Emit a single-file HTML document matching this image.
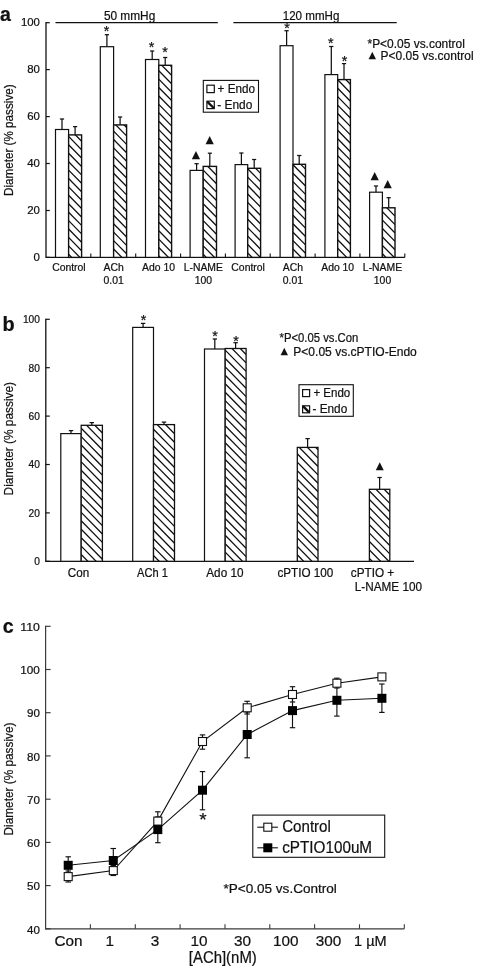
<!DOCTYPE html>
<html lang="en"><head><meta charset="utf-8"><title>Figure</title>
<style>html,body{margin:0;padding:0;background:#fff}body{width:478px;height:966px;overflow:hidden}svg{display:block}</style>
</head><body>
<svg width="478" height="966" viewBox="0 0 478 966" font-family='"Liberation Sans", sans-serif' fill="#111" stroke="#111" stroke-linecap="butt">
<rect x="0" y="0" width="478" height="966" fill="#fff" stroke="none"/>
<style>text{stroke:#111;stroke-width:0.22px;stroke-linejoin:round}</style>
<text x="0.0" y="20.8" font-size="19.5" font-weight="bold">a</text>
<line x1="46.0" y1="22.1" x2="46.0" y2="258.0" stroke-width="1.3"/>
<line x1="46.0" y1="257.4" x2="404.8" y2="257.4" stroke-width="1.3"/>
<line x1="46.0" y1="257.4" x2="49.8" y2="257.4" stroke-width="1.2"/>
<text x="39.9" y="261.1" font-size="11.8" text-anchor="end" textLength="6.4" lengthAdjust="spacingAndGlyphs">0</text>
<line x1="46.0" y1="210.5" x2="49.8" y2="210.5" stroke-width="1.2"/>
<text x="39.9" y="214.2" font-size="11.8" text-anchor="end" textLength="12.7" lengthAdjust="spacingAndGlyphs">20</text>
<line x1="46.0" y1="163.5" x2="49.8" y2="163.5" stroke-width="1.2"/>
<text x="39.9" y="167.2" font-size="11.8" text-anchor="end" textLength="12.7" lengthAdjust="spacingAndGlyphs">40</text>
<line x1="46.0" y1="116.6" x2="49.8" y2="116.6" stroke-width="1.2"/>
<text x="39.9" y="120.3" font-size="11.8" text-anchor="end" textLength="12.7" lengthAdjust="spacingAndGlyphs">60</text>
<line x1="46.0" y1="69.6" x2="49.8" y2="69.6" stroke-width="1.2"/>
<text x="39.9" y="73.3" font-size="11.8" text-anchor="end" textLength="12.7" lengthAdjust="spacingAndGlyphs">80</text>
<line x1="46.0" y1="22.7" x2="49.8" y2="22.7" stroke-width="1.2"/>
<text x="39.9" y="26.4" font-size="11.8" text-anchor="end" textLength="19.0" lengthAdjust="spacingAndGlyphs">100</text>
<line x1="90.8" y1="257.4" x2="90.8" y2="253.4" stroke-width="1.1"/>
<line x1="135.7" y1="257.4" x2="135.7" y2="253.4" stroke-width="1.1"/>
<line x1="180.6" y1="257.4" x2="180.6" y2="253.4" stroke-width="1.1"/>
<line x1="225.4" y1="257.4" x2="225.4" y2="253.4" stroke-width="1.1"/>
<line x1="270.2" y1="257.4" x2="270.2" y2="253.4" stroke-width="1.1"/>
<line x1="315.1" y1="257.4" x2="315.1" y2="253.4" stroke-width="1.1"/>
<line x1="359.9" y1="257.4" x2="359.9" y2="253.4" stroke-width="1.1"/>
<line x1="404.8" y1="257.4" x2="404.8" y2="253.4" stroke-width="1.1"/>
<text transform="translate(12.9,140.2) rotate(-90)" font-size="12.6" text-anchor="middle" textLength="111.6" lengthAdjust="spacingAndGlyphs">Diameter (% passive)</text>
<line x1="55.5" y1="22.7" x2="217.8" y2="22.7" stroke-width="1.2"/>
<line x1="233.4" y1="22.7" x2="396.7" y2="22.7" stroke-width="1.2"/>
<text x="103.9" y="19.6" font-size="12.3" textLength="51.4" lengthAdjust="spacingAndGlyphs">50 mmHg</text>
<text x="282.7" y="19.6" font-size="12.3" textLength="56.7" lengthAdjust="spacingAndGlyphs">120 mmHg</text>
<line x1="62.0" y1="119.0" x2="62.0" y2="129.5" stroke-width="1.25"/>
<line x1="59.9" y1="119.0" x2="64.1" y2="119.0" stroke-width="1.25"/>
<line x1="75.1" y1="126.6" x2="75.1" y2="134.9" stroke-width="1.25"/>
<line x1="73.0" y1="126.6" x2="77.2" y2="126.6" stroke-width="1.25"/>
<rect x="55.5" y="129.5" width="13.1" height="127.9" fill="#fff" stroke-width="1.2"/>
<clipPath id="c1"><rect x="68.6" y="134.9" width="13.0" height="122.5"/></clipPath>
<rect x="68.6" y="134.9" width="13.0" height="122.5" fill="#fff" stroke="none"/>
<path d="M68.6 119.6L81.6 132.8M68.6 128.0L81.6 141.2M68.6 136.4L81.6 149.7M68.6 144.8L81.6 158.1M68.6 153.2L81.6 166.5M68.6 161.7L81.6 174.9M68.6 170.1L81.6 183.3M68.6 178.5L81.6 191.8M68.6 186.9L81.6 200.2M68.6 195.3L81.6 208.6M68.6 203.8L81.6 217.0M68.6 212.2L81.6 225.4M68.6 220.6L81.6 233.9M68.6 229.0L81.6 242.3M68.6 237.4L81.6 250.7M68.6 245.9L81.6 259.1M68.6 254.3L81.6 267.5" stroke-width="1.3" clip-path="url(#c1)" fill="none"/>
<rect x="68.6" y="134.9" width="13.0" height="122.5" fill="none" stroke-width="1.4"/>
<line x1="106.9" y1="34.7" x2="106.9" y2="46.7" stroke-width="1.25"/>
<line x1="104.8" y1="34.7" x2="109.0" y2="34.7" stroke-width="1.25"/>
<line x1="120.1" y1="117.0" x2="120.1" y2="124.9" stroke-width="1.25"/>
<line x1="118.0" y1="117.0" x2="122.2" y2="117.0" stroke-width="1.25"/>
<rect x="100.3" y="46.7" width="13.3" height="210.7" fill="#fff" stroke-width="1.2"/>
<clipPath id="c2"><rect x="113.6" y="124.9" width="13.0" height="132.5"/></clipPath>
<rect x="113.6" y="124.9" width="13.0" height="132.5" fill="#fff" stroke="none"/>
<path d="M113.6 105.8L126.6 119.1M113.6 114.3L126.6 127.5M113.6 122.7L126.6 135.9M113.6 131.1L126.6 144.4M113.6 139.5L126.6 152.8M113.6 147.9L126.6 161.2M113.6 156.4L126.6 169.6M113.6 164.8L126.6 178.0M113.6 173.2L126.6 186.5M113.6 181.6L126.6 194.9M113.6 190.0L126.6 203.3M113.6 198.5L126.6 211.7M113.6 206.9L126.6 220.1M113.6 215.3L126.6 228.6M113.6 223.7L126.6 237.0M113.6 232.1L126.6 245.4M113.6 240.6L126.6 253.8M113.6 249.0L126.6 262.2M113.6 257.4L126.6 270.7" stroke-width="1.3" clip-path="url(#c2)" fill="none"/>
<rect x="113.6" y="124.9" width="13.0" height="132.5" fill="none" stroke-width="1.4"/>
<line x1="152.2" y1="51.0" x2="152.2" y2="59.5" stroke-width="1.25"/>
<line x1="150.1" y1="51.0" x2="154.2" y2="51.0" stroke-width="1.25"/>
<line x1="165.2" y1="57.5" x2="165.2" y2="65.3" stroke-width="1.25"/>
<line x1="163.1" y1="57.5" x2="167.3" y2="57.5" stroke-width="1.25"/>
<rect x="145.5" y="59.5" width="13.3" height="197.9" fill="#fff" stroke-width="1.2"/>
<clipPath id="c3"><rect x="158.8" y="65.3" width="12.8" height="192.1"/></clipPath>
<rect x="158.8" y="65.3" width="12.8" height="192.1" fill="#fff" stroke="none"/>
<path d="M158.8 45.4L171.6 58.5M158.8 53.9L171.6 66.9M158.8 62.3L171.6 75.3M158.8 70.7L171.6 83.8M158.8 79.1L171.6 92.2M158.8 87.5L171.6 100.6M158.8 96.0L171.6 109.0M158.8 104.4L171.6 117.4M158.8 112.8L171.6 125.9M158.8 121.2L171.6 134.3M158.8 129.6L171.6 142.7M158.8 138.1L171.6 151.1M158.8 146.5L171.6 159.5M158.8 154.9L171.6 168.0M158.8 163.3L171.6 176.4M158.8 171.7L171.6 184.8M158.8 180.2L171.6 193.2M158.8 188.6L171.6 201.6M158.8 197.0L171.6 210.1M158.8 205.4L171.6 218.5M158.8 213.8L171.6 226.9M158.8 222.3L171.6 235.3M158.8 230.7L171.6 243.7M158.8 239.1L171.6 252.2M158.8 247.5L171.6 260.6M158.8 255.9L171.6 269.0" stroke-width="1.3" clip-path="url(#c3)" fill="none"/>
<rect x="158.8" y="65.3" width="12.8" height="192.1" fill="none" stroke-width="1.4"/>
<line x1="196.6" y1="163.7" x2="196.6" y2="170.4" stroke-width="1.25"/>
<line x1="194.5" y1="163.7" x2="198.7" y2="163.7" stroke-width="1.25"/>
<line x1="209.8" y1="153.2" x2="209.8" y2="166.4" stroke-width="1.25"/>
<line x1="207.8" y1="153.2" x2="211.9" y2="153.2" stroke-width="1.25"/>
<rect x="190.1" y="170.4" width="13.1" height="87.0" fill="#fff" stroke-width="1.2"/>
<clipPath id="c4"><rect x="203.2" y="166.4" width="13.3" height="91.0"/></clipPath>
<rect x="203.2" y="166.4" width="13.3" height="91.0" fill="#fff" stroke="none"/>
<path d="M203.2 144.8L216.5 158.4M203.2 153.3L216.5 166.8M203.2 161.7L216.5 175.2M203.2 170.1L216.5 183.7M203.2 178.5L216.5 192.1M203.2 186.9L216.5 200.5M203.2 195.4L216.5 208.9M203.2 203.8L216.5 217.3M203.2 212.2L216.5 225.8M203.2 220.6L216.5 234.2M203.2 229.0L216.5 242.6M203.2 237.5L216.5 251.0M203.2 245.9L216.5 259.4M203.2 254.3L216.5 267.9" stroke-width="1.3" clip-path="url(#c4)" fill="none"/>
<rect x="203.2" y="166.4" width="13.3" height="91.0" fill="none" stroke-width="1.4"/>
<line x1="241.4" y1="153.0" x2="241.4" y2="164.6" stroke-width="1.25"/>
<line x1="239.3" y1="153.0" x2="243.5" y2="153.0" stroke-width="1.25"/>
<line x1="254.2" y1="159.5" x2="254.2" y2="168.3" stroke-width="1.25"/>
<line x1="252.1" y1="159.5" x2="256.2" y2="159.5" stroke-width="1.25"/>
<rect x="235.1" y="164.6" width="12.6" height="92.8" fill="#fff" stroke-width="1.2"/>
<clipPath id="c5"><rect x="247.7" y="168.3" width="12.9" height="89.1"/></clipPath>
<rect x="247.7" y="168.3" width="12.9" height="89.1" fill="#fff" stroke="none"/>
<path d="M247.7 151.9L260.6 165.0M247.7 160.3L260.6 173.4M247.7 168.7L260.6 181.9M247.7 177.1L260.6 190.3M247.7 185.5L260.6 198.7M247.7 194.0L260.6 207.1M247.7 202.4L260.6 215.5M247.7 210.8L260.6 224.0M247.7 219.2L260.6 232.4M247.7 227.6L260.6 240.8M247.7 236.1L260.6 249.2M247.7 244.5L260.6 257.6M247.7 252.9L260.6 266.1" stroke-width="1.3" clip-path="url(#c5)" fill="none"/>
<rect x="247.7" y="168.3" width="12.9" height="89.1" fill="none" stroke-width="1.4"/>
<line x1="286.6" y1="30.7" x2="286.6" y2="45.7" stroke-width="1.25"/>
<line x1="284.4" y1="30.7" x2="288.7" y2="30.7" stroke-width="1.25"/>
<line x1="299.2" y1="155.5" x2="299.2" y2="164.3" stroke-width="1.25"/>
<line x1="297.1" y1="155.5" x2="301.4" y2="155.5" stroke-width="1.25"/>
<rect x="280.1" y="45.7" width="12.9" height="211.7" fill="#fff" stroke-width="1.2"/>
<clipPath id="c6"><rect x="293.0" y="164.3" width="12.5" height="93.1"/></clipPath>
<rect x="293.0" y="164.3" width="12.5" height="93.1" fill="#fff" stroke="none"/>
<path d="M293.0 148.0L305.5 160.7M293.0 156.4L305.5 169.1M293.0 164.8L305.5 177.5M293.0 173.2L305.5 186.0M293.0 181.6L305.5 194.4M293.0 190.1L305.5 202.8M293.0 198.5L305.5 211.2M293.0 206.9L305.5 219.6M293.0 215.3L305.5 228.1M293.0 223.7L305.5 236.5M293.0 232.2L305.5 244.9M293.0 240.6L305.5 253.3M293.0 249.0L305.5 261.7" stroke-width="1.3" clip-path="url(#c6)" fill="none"/>
<rect x="293.0" y="164.3" width="12.5" height="93.1" fill="none" stroke-width="1.4"/>
<line x1="331.3" y1="46.5" x2="331.3" y2="74.6" stroke-width="1.25"/>
<line x1="329.2" y1="46.5" x2="333.4" y2="46.5" stroke-width="1.25"/>
<line x1="344.0" y1="63.6" x2="344.0" y2="79.6" stroke-width="1.25"/>
<line x1="341.9" y1="63.6" x2="346.1" y2="63.6" stroke-width="1.25"/>
<rect x="324.9" y="74.6" width="12.8" height="182.8" fill="#fff" stroke-width="1.2"/>
<clipPath id="c7"><rect x="337.7" y="79.6" width="12.7" height="177.8"/></clipPath>
<rect x="337.7" y="79.6" width="12.7" height="177.8" fill="#fff" stroke="none"/>
<path d="M337.7 63.0L350.4 75.9M337.7 71.4L350.4 84.3M337.7 79.8L350.4 92.8M337.7 88.2L350.4 101.2M337.7 96.6L350.4 109.6M337.7 105.1L350.4 118.0M337.7 113.5L350.4 126.4M337.7 121.9L350.4 134.9M337.7 130.3L350.4 143.3M337.7 138.7L350.4 151.7M337.7 147.2L350.4 160.1M337.7 155.6L350.4 168.5M337.7 164.0L350.4 177.0M337.7 172.4L350.4 185.4M337.7 180.8L350.4 193.8M337.7 189.3L350.4 202.2M337.7 197.7L350.4 210.6M337.7 206.1L350.4 219.1M337.7 214.5L350.4 227.5M337.7 222.9L350.4 235.9M337.7 231.4L350.4 244.3M337.7 239.8L350.4 252.7M337.7 248.2L350.4 261.2M337.7 256.6L350.4 269.6" stroke-width="1.3" clip-path="url(#c7)" fill="none"/>
<rect x="337.7" y="79.6" width="12.7" height="177.8" fill="none" stroke-width="1.4"/>
<line x1="376.0" y1="186.0" x2="376.0" y2="192.2" stroke-width="1.25"/>
<line x1="373.9" y1="186.0" x2="378.1" y2="186.0" stroke-width="1.25"/>
<line x1="388.7" y1="197.7" x2="388.7" y2="207.8" stroke-width="1.25"/>
<line x1="386.6" y1="197.7" x2="390.8" y2="197.7" stroke-width="1.25"/>
<rect x="369.6" y="192.2" width="12.8" height="65.2" fill="#fff" stroke-width="1.2"/>
<clipPath id="c8"><rect x="382.4" y="207.8" width="12.6" height="49.6"/></clipPath>
<rect x="382.4" y="207.8" width="12.6" height="49.6" fill="#fff" stroke="none"/>
<path d="M382.4 194.9L395.0 207.7M382.4 203.3L395.0 216.1M382.4 211.7L395.0 224.6M382.4 220.1L395.0 233.0M382.4 228.5L395.0 241.4M382.4 237.0L395.0 249.8M382.4 245.4L395.0 258.2M382.4 253.8L395.0 266.7" stroke-width="1.3" clip-path="url(#c8)" fill="none"/>
<rect x="382.4" y="207.8" width="12.6" height="49.6" fill="none" stroke-width="1.4"/>
<text x="106.6" y="36.4" font-size="14.3" text-anchor="middle">*</text>
<text x="151.6" y="51.7" font-size="14.3" text-anchor="middle">*</text>
<text x="165.0" y="56.7" font-size="14.3" text-anchor="middle">*</text>
<text x="287.0" y="33.0" font-size="14.3" text-anchor="middle">*</text>
<text x="330.8" y="47.7" font-size="14.3" text-anchor="middle">*</text>
<text x="344.5" y="66.1" font-size="14.3" text-anchor="middle">*</text>
<text x="191.72" y="157.96" font-size="10.88" font-family='"DejaVu Sans", "Liberation Sans", sans-serif' style="stroke:none">▲</text>
<text x="205.52" y="143.26" font-size="10.88" font-family='"DejaVu Sans", "Liberation Sans", sans-serif' style="stroke:none">▲</text>
<text x="370.42" y="178.56" font-size="10.88" font-family='"DejaVu Sans", "Liberation Sans", sans-serif' style="stroke:none">▲</text>
<text x="383.52" y="187.26" font-size="10.88" font-family='"DejaVu Sans", "Liberation Sans", sans-serif' style="stroke:none">▲</text>
<text x="68.9" y="270.5" font-size="10.4" text-anchor="middle">Control</text>
<text x="113.7" y="270.5" font-size="10.4" text-anchor="middle">ACh</text>
<text x="113.7" y="283.5" font-size="10.4" text-anchor="middle">0.01</text>
<text x="158.5" y="270.5" font-size="10.4" text-anchor="middle">Ado 10</text>
<text x="203.3" y="270.5" font-size="10.4" text-anchor="middle">L-NAME</text>
<text x="203.3" y="283.5" font-size="10.4" text-anchor="middle">100</text>
<text x="248.1" y="270.5" font-size="10.4" text-anchor="middle">Control</text>
<text x="292.9" y="270.5" font-size="10.4" text-anchor="middle">ACh</text>
<text x="292.9" y="283.5" font-size="10.4" text-anchor="middle">0.01</text>
<text x="337.7" y="270.5" font-size="10.4" text-anchor="middle">Ado 10</text>
<text x="382.5" y="270.5" font-size="10.4" text-anchor="middle">L-NAME</text>
<text x="382.5" y="283.5" font-size="10.4" text-anchor="middle">100</text>
<rect x="203.3" y="80.4" width="55.2" height="31.8" fill="#fff" stroke-width="1.1"/>
<rect x="206.9" y="85.2" width="7.4" height="7.4" fill="#fff" stroke-width="1.2"/>
<rect x="206.9" y="101.2" width="7.4" height="7.4" fill="#fff" stroke-width="1.2"/>
<polygon points="206.9,101.2 208.6,101.2 214.3,106.9 214.3,108.6 212.6,108.6 206.9,102.9" stroke="none"/>
<text x="217.6" y="92.7" font-size="12.1" textLength="37.3" lengthAdjust="spacingAndGlyphs">+ Endo</text>
<text x="217.3" y="108.8" font-size="12.1" textLength="35.0" lengthAdjust="spacingAndGlyphs">- Endo</text>
<text x="367.5" y="48.0" font-size="12" textLength="97.3" lengthAdjust="spacingAndGlyphs">*P&lt;0.05 vs.control</text>
<text x="368.62" y="58.29" font-size="9.83" font-family='"DejaVu Sans", "Liberation Sans", sans-serif' style="stroke:none">▲</text>
<text x="380.6" y="60.1" font-size="12" textLength="93.0" lengthAdjust="spacingAndGlyphs">P&lt;0.05 vs.control</text>
<text x="2.6" y="330.8" font-size="19.9" font-weight="bold">b</text>
<line x1="45.8" y1="318.7" x2="45.8" y2="561.9" stroke-width="1.3"/>
<line x1="45.8" y1="561.3" x2="414.0" y2="561.3" stroke-width="1.3"/>
<line x1="45.8" y1="561.3" x2="49.8" y2="561.3" stroke-width="1.2"/>
<text x="39.9" y="565.2" font-size="10.2" text-anchor="end">0</text>
<line x1="45.8" y1="512.9" x2="49.8" y2="512.9" stroke-width="1.2"/>
<text x="39.9" y="516.8" font-size="10.2" text-anchor="end">20</text>
<line x1="45.8" y1="464.5" x2="49.8" y2="464.5" stroke-width="1.2"/>
<text x="39.9" y="468.4" font-size="10.2" text-anchor="end">40</text>
<line x1="45.8" y1="416.1" x2="49.8" y2="416.1" stroke-width="1.2"/>
<text x="39.9" y="420.0" font-size="10.2" text-anchor="end">60</text>
<line x1="45.8" y1="367.7" x2="49.8" y2="367.7" stroke-width="1.2"/>
<text x="39.9" y="371.6" font-size="10.2" text-anchor="end">80</text>
<line x1="45.8" y1="319.3" x2="49.8" y2="319.3" stroke-width="1.2"/>
<text x="39.9" y="323.2" font-size="10.2" text-anchor="end">100</text>
<text transform="translate(12.7,438.7) rotate(-90)" font-size="12.7" text-anchor="middle" textLength="113.4" lengthAdjust="spacingAndGlyphs">Diameter (% passive)</text>
<line x1="71.0" y1="430.6" x2="71.0" y2="433.6" stroke-width="1.25"/>
<line x1="68.8" y1="430.6" x2="73.2" y2="430.6" stroke-width="1.25"/>
<line x1="91.8" y1="422.6" x2="91.8" y2="425.3" stroke-width="1.25"/>
<line x1="89.6" y1="422.6" x2="94.0" y2="422.6" stroke-width="1.25"/>
<rect x="60.8" y="433.6" width="20.4" height="127.7" fill="#fff" stroke-width="1.2"/>
<clipPath id="c9"><rect x="81.2" y="425.3" width="21.2" height="136.0"/></clipPath>
<rect x="81.2" y="425.3" width="21.2" height="136.0" fill="#fff" stroke="none"/>
<path d="M81.2 402.9L102.4 424.6M81.2 411.4L102.4 433.0M81.2 419.8L102.4 441.4M81.2 428.2L102.4 449.8M81.2 436.6L102.4 458.2M81.2 445.0L102.4 466.7M81.2 453.5L102.4 475.1M81.2 461.9L102.4 483.5M81.2 470.3L102.4 491.9M81.2 478.7L102.4 500.3M81.2 487.1L102.4 508.8M81.2 495.6L102.4 517.2M81.2 504.0L102.4 525.6M81.2 512.4L102.4 534.0M81.2 520.8L102.4 542.4M81.2 529.2L102.4 550.9M81.2 537.7L102.4 559.3M81.2 546.1L102.4 567.7M81.2 554.5L102.4 576.1" stroke-width="1.3" clip-path="url(#c9)" fill="none"/>
<rect x="81.2" y="425.3" width="21.2" height="136.0" fill="none" stroke-width="1.3"/>
<line x1="143.1" y1="323.4" x2="143.1" y2="327.4" stroke-width="1.25"/>
<line x1="140.9" y1="323.4" x2="145.3" y2="323.4" stroke-width="1.25"/>
<line x1="164.0" y1="422.1" x2="164.0" y2="424.6" stroke-width="1.25"/>
<line x1="161.8" y1="422.1" x2="166.2" y2="422.1" stroke-width="1.25"/>
<rect x="132.7" y="327.4" width="20.8" height="233.9" fill="#fff" stroke-width="1.2"/>
<clipPath id="c10"><rect x="153.5" y="424.6" width="21.0" height="136.7"/></clipPath>
<rect x="153.5" y="424.6" width="21.0" height="136.7" fill="#fff" stroke="none"/>
<path d="M153.5 395.5L174.5 416.9M153.5 403.9L174.5 425.4M153.5 412.4L174.5 433.8M153.5 420.8L174.5 442.2M153.5 429.2L174.5 450.6M153.5 437.6L174.5 459.0M153.5 446.0L174.5 467.5M153.5 454.5L174.5 475.9M153.5 462.9L174.5 484.3M153.5 471.3L174.5 492.7M153.5 479.7L174.5 501.1M153.5 488.1L174.5 509.6M153.5 496.6L174.5 518.0M153.5 505.0L174.5 526.4M153.5 513.4L174.5 534.8M153.5 521.8L174.5 543.2M153.5 530.2L174.5 551.7M153.5 538.7L174.5 560.1M153.5 547.1L174.5 568.5M153.5 555.5L174.5 576.9" stroke-width="1.3" clip-path="url(#c10)" fill="none"/>
<rect x="153.5" y="424.6" width="21.0" height="136.7" fill="none" stroke-width="1.3"/>
<line x1="214.8" y1="339.0" x2="214.8" y2="349.0" stroke-width="1.25"/>
<line x1="212.7" y1="339.0" x2="217.0" y2="339.0" stroke-width="1.25"/>
<line x1="235.6" y1="342.7" x2="235.6" y2="348.5" stroke-width="1.25"/>
<line x1="233.4" y1="342.7" x2="237.8" y2="342.7" stroke-width="1.25"/>
<rect x="204.5" y="349.0" width="20.7" height="212.3" fill="#fff" stroke-width="1.2"/>
<clipPath id="c11"><rect x="225.2" y="348.5" width="20.9" height="212.8"/></clipPath>
<rect x="225.2" y="348.5" width="20.9" height="212.8" fill="#fff" stroke="none"/>
<path d="M225.2 324.8L246.1 346.1M225.2 333.2L246.1 354.5M225.2 341.6L246.1 362.9M225.2 350.1L246.1 371.4M225.2 358.5L246.1 379.8M225.2 366.9L246.1 388.2M225.2 375.3L246.1 396.6M225.2 383.7L246.1 405.0M225.2 392.2L246.1 413.5M225.2 400.6L246.1 421.9M225.2 409.0L246.1 430.3M225.2 417.4L246.1 438.7M225.2 425.8L246.1 447.1M225.2 434.3L246.1 455.6M225.2 442.7L246.1 464.0M225.2 451.1L246.1 472.4M225.2 459.5L246.1 480.8M225.2 467.9L246.1 489.2M225.2 476.4L246.1 497.7M225.2 484.8L246.1 506.1M225.2 493.2L246.1 514.5M225.2 501.6L246.1 522.9M225.2 510.0L246.1 531.3M225.2 518.5L246.1 539.8M225.2 526.9L246.1 548.2M225.2 535.3L246.1 556.6M225.2 543.7L246.1 565.0M225.2 552.1L246.1 573.4M225.2 560.6L246.1 581.9" stroke-width="1.3" clip-path="url(#c11)" fill="none"/>
<rect x="225.2" y="348.5" width="20.9" height="212.8" fill="none" stroke-width="1.3"/>
<line x1="307.6" y1="438.6" x2="307.6" y2="447.4" stroke-width="1.25"/>
<line x1="305.4" y1="438.6" x2="309.8" y2="438.6" stroke-width="1.25"/>
<clipPath id="c12"><rect x="297.3" y="447.4" width="20.7" height="113.9"/></clipPath>
<rect x="297.3" y="447.4" width="20.7" height="113.9" fill="#fff" stroke="none"/>
<path d="M297.3 420.1L318.0 441.2M297.3 428.5L318.0 449.7M297.3 437.0L318.0 458.1M297.3 445.4L318.0 466.5M297.3 453.8L318.0 474.9M297.3 462.2L318.0 483.3M297.3 470.6L318.0 491.8M297.3 479.1L318.0 500.2M297.3 487.5L318.0 508.6M297.3 495.9L318.0 517.0M297.3 504.3L318.0 525.4M297.3 512.7L318.0 533.9M297.3 521.2L318.0 542.3M297.3 529.6L318.0 550.7M297.3 538.0L318.0 559.1M297.3 546.4L318.0 567.5M297.3 554.8L318.0 576.0" stroke-width="1.3" clip-path="url(#c12)" fill="none"/>
<rect x="297.3" y="447.4" width="20.7" height="113.9" fill="none" stroke-width="1.3"/>
<line x1="379.6" y1="477.5" x2="379.6" y2="489.3" stroke-width="1.25"/>
<line x1="377.4" y1="477.5" x2="381.8" y2="477.5" stroke-width="1.25"/>
<clipPath id="c13"><rect x="369.4" y="489.3" width="20.4" height="72.0"/></clipPath>
<rect x="369.4" y="489.3" width="20.4" height="72.0" fill="#fff" stroke="none"/>
<path d="M369.4 465.7L389.8 486.5M369.4 474.2L389.8 495.0M369.4 482.6L389.8 503.4M369.4 491.0L389.8 511.8M369.4 499.4L389.8 520.2M369.4 507.8L389.8 528.6M369.4 516.3L389.8 537.1M369.4 524.7L389.8 545.5M369.4 533.1L389.8 553.9M369.4 541.5L389.8 562.3M369.4 549.9L389.8 570.7M369.4 558.4L389.8 579.2" stroke-width="1.3" clip-path="url(#c13)" fill="none"/>
<rect x="369.4" y="489.3" width="20.4" height="72.0" fill="none" stroke-width="1.3"/>
<text x="143.5" y="324.9" font-size="14.3" text-anchor="middle">*</text>
<text x="215.0" y="340.9" font-size="14.3" text-anchor="middle">*</text>
<text x="236.0" y="346.0" font-size="14.3" text-anchor="middle">*</text>
<text x="375.87" y="469.41" font-size="10.48" font-family='"DejaVu Sans", "Liberation Sans", sans-serif' style="stroke:none">▲</text>
<text x="67.8" y="577.0" font-size="12" textLength="21.4" lengthAdjust="spacingAndGlyphs">Con</text>
<text x="137.0" y="577.0" font-size="12" textLength="30.8" lengthAdjust="spacingAndGlyphs">ACh 1</text>
<text x="206.3" y="577.0" font-size="12" textLength="37.2" lengthAdjust="spacingAndGlyphs">Ado 10</text>
<text x="277.4" y="577.0" font-size="12" textLength="55.8" lengthAdjust="spacingAndGlyphs">cPTIO 100</text>
<text x="350.8" y="577.0" font-size="12" textLength="43.4" lengthAdjust="spacingAndGlyphs">cPTIO +</text>
<text x="354.8" y="590.7" font-size="12" textLength="67.2" lengthAdjust="spacingAndGlyphs">L-NAME 100</text>
<rect x="299.0" y="384.7" width="54.3" height="31.6" fill="#fff" stroke-width="1.1"/>
<rect x="302.6" y="389.6" width="7.0" height="7.0" fill="#fff" stroke-width="1.2"/>
<rect x="302.6" y="405.8" width="7.0" height="7.0" fill="#fff" stroke-width="1.2"/>
<polygon points="302.6,405.8 304.3,405.8 309.6,411.1 309.6,412.8 307.9,412.8 302.6,407.5" stroke="none"/>
<text x="313.4" y="396.7" font-size="12.1" textLength="36.9" lengthAdjust="spacingAndGlyphs">+ Endo</text>
<text x="312.5" y="413.0" font-size="12.1" textLength="34.7" lengthAdjust="spacingAndGlyphs">- Endo</text>
<text x="279.6" y="342.0" font-size="12" textLength="78.7" lengthAdjust="spacingAndGlyphs">*P&lt;0.05 vs.Con</text>
<text x="280.52" y="353.79" font-size="9.83" font-family='"DejaVu Sans", "Liberation Sans", sans-serif' style="stroke:none">▲</text>
<text x="293.3" y="355.5" font-size="12" textLength="123.5" lengthAdjust="spacingAndGlyphs">P&lt;0.05 vs.cPTIO-Endo</text>
<text x="2.8" y="633.2" font-size="19.7" font-weight="bold">c</text>
<line x1="45.6" y1="625.7" x2="45.6" y2="929.4" stroke-width="1.2" stroke="#3a3a3a"/>
<line x1="45.6" y1="928.8" x2="404.3" y2="928.8" stroke-width="1.2" stroke="#3a3a3a"/>
<line x1="45.6" y1="928.8" x2="50.6" y2="928.8" stroke-width="1.15" stroke="#3a3a3a"/>
<text x="39.9" y="933.5" font-size="11.6" text-anchor="end" textLength="12.9" lengthAdjust="spacingAndGlyphs">40</text>
<line x1="45.6" y1="885.6" x2="50.6" y2="885.6" stroke-width="1.15" stroke="#3a3a3a"/>
<text x="39.9" y="890.3" font-size="11.6" text-anchor="end" textLength="12.9" lengthAdjust="spacingAndGlyphs">50</text>
<line x1="45.6" y1="842.4" x2="50.6" y2="842.4" stroke-width="1.15" stroke="#3a3a3a"/>
<text x="39.9" y="847.1" font-size="11.6" text-anchor="end" textLength="12.9" lengthAdjust="spacingAndGlyphs">60</text>
<line x1="45.6" y1="799.2" x2="50.6" y2="799.2" stroke-width="1.15" stroke="#3a3a3a"/>
<text x="39.9" y="803.9" font-size="11.6" text-anchor="end" textLength="12.9" lengthAdjust="spacingAndGlyphs">70</text>
<line x1="45.6" y1="755.9" x2="50.6" y2="755.9" stroke-width="1.15" stroke="#3a3a3a"/>
<text x="39.9" y="760.6" font-size="11.6" text-anchor="end" textLength="12.9" lengthAdjust="spacingAndGlyphs">80</text>
<line x1="45.6" y1="712.7" x2="50.6" y2="712.7" stroke-width="1.15" stroke="#3a3a3a"/>
<text x="39.9" y="717.4" font-size="11.6" text-anchor="end" textLength="12.9" lengthAdjust="spacingAndGlyphs">90</text>
<line x1="45.6" y1="669.5" x2="50.6" y2="669.5" stroke-width="1.15" stroke="#3a3a3a"/>
<text x="39.9" y="674.2" font-size="11.6" text-anchor="end" textLength="19.6" lengthAdjust="spacingAndGlyphs">100</text>
<line x1="45.6" y1="626.3" x2="50.6" y2="626.3" stroke-width="1.15" stroke="#3a3a3a"/>
<text x="39.9" y="631.0" font-size="11.6" text-anchor="end" textLength="19.6" lengthAdjust="spacingAndGlyphs">110</text>
<line x1="90.4" y1="928.8" x2="90.4" y2="924.3" stroke-width="1.1" stroke="#3a3a3a"/>
<line x1="135.3" y1="928.8" x2="135.3" y2="924.3" stroke-width="1.1" stroke="#3a3a3a"/>
<line x1="180.1" y1="928.8" x2="180.1" y2="924.3" stroke-width="1.1" stroke="#3a3a3a"/>
<line x1="225.0" y1="928.8" x2="225.0" y2="924.3" stroke-width="1.1" stroke="#3a3a3a"/>
<line x1="269.8" y1="928.8" x2="269.8" y2="924.3" stroke-width="1.1" stroke="#3a3a3a"/>
<line x1="314.6" y1="928.8" x2="314.6" y2="924.3" stroke-width="1.1" stroke="#3a3a3a"/>
<line x1="359.5" y1="928.8" x2="359.5" y2="924.3" stroke-width="1.1" stroke="#3a3a3a"/>
<line x1="404.3" y1="928.8" x2="404.3" y2="924.3" stroke-width="1.1" stroke="#3a3a3a"/>
<text transform="translate(13.3,779.0) rotate(-90)" font-size="12.7" text-anchor="middle" textLength="112.9" lengthAdjust="spacingAndGlyphs">Diameter (% passive)</text>
<polyline fill="none" stroke-width="1.1" points="68.2,876.6 113.3,870.6 157.8,821.1 202.5,741.5 247.2,707.8 292.5,694.5 336.9,683.2 381.9,676.9"/>
<polyline fill="none" stroke-width="1.1" points="68.2,865.3 113.3,860.5 157.8,829.6 202.5,790.2 247.2,734.5 292.5,710.6 336.9,700.3 381.9,698.3"/>
<line x1="68.2" y1="871.0" x2="68.2" y2="882.0" stroke-width="1.15"/>
<line x1="65.5" y1="871.0" x2="71.0" y2="871.0" stroke-width="1.15"/>
<line x1="65.5" y1="882.0" x2="71.0" y2="882.0" stroke-width="1.15"/>
<line x1="113.3" y1="865.5" x2="113.3" y2="875.5" stroke-width="1.15"/>
<line x1="110.5" y1="865.5" x2="116.0" y2="865.5" stroke-width="1.15"/>
<line x1="110.5" y1="875.5" x2="116.0" y2="875.5" stroke-width="1.15"/>
<line x1="157.8" y1="811.8" x2="157.8" y2="830.0" stroke-width="1.15"/>
<line x1="155.1" y1="811.8" x2="160.6" y2="811.8" stroke-width="1.15"/>
<line x1="155.1" y1="830.0" x2="160.6" y2="830.0" stroke-width="1.15"/>
<line x1="202.5" y1="734.9" x2="202.5" y2="749.2" stroke-width="1.15"/>
<line x1="199.8" y1="734.9" x2="205.2" y2="734.9" stroke-width="1.15"/>
<line x1="199.8" y1="749.2" x2="205.2" y2="749.2" stroke-width="1.15"/>
<line x1="247.2" y1="701.3" x2="247.2" y2="714.0" stroke-width="1.15"/>
<line x1="244.4" y1="701.3" x2="249.9" y2="701.3" stroke-width="1.15"/>
<line x1="244.4" y1="714.0" x2="249.9" y2="714.0" stroke-width="1.15"/>
<line x1="292.5" y1="686.7" x2="292.5" y2="702.0" stroke-width="1.15"/>
<line x1="289.8" y1="686.7" x2="295.2" y2="686.7" stroke-width="1.15"/>
<line x1="289.8" y1="702.0" x2="295.2" y2="702.0" stroke-width="1.15"/>
<line x1="336.9" y1="678.2" x2="336.9" y2="688.0" stroke-width="1.15"/>
<line x1="334.1" y1="678.2" x2="339.6" y2="678.2" stroke-width="1.15"/>
<line x1="334.1" y1="688.0" x2="339.6" y2="688.0" stroke-width="1.15"/>
<line x1="381.9" y1="674.0" x2="381.9" y2="680.0" stroke-width="1.15"/>
<line x1="379.1" y1="674.0" x2="384.6" y2="674.0" stroke-width="1.15"/>
<line x1="379.1" y1="680.0" x2="384.6" y2="680.0" stroke-width="1.15"/>
<line x1="68.2" y1="856.8" x2="68.2" y2="873.5" stroke-width="1.15"/>
<line x1="65.5" y1="856.8" x2="71.0" y2="856.8" stroke-width="1.15"/>
<line x1="65.5" y1="873.5" x2="71.0" y2="873.5" stroke-width="1.15"/>
<line x1="113.3" y1="848.5" x2="113.3" y2="872.0" stroke-width="1.15"/>
<line x1="110.5" y1="848.5" x2="116.0" y2="848.5" stroke-width="1.15"/>
<line x1="110.5" y1="872.0" x2="116.0" y2="872.0" stroke-width="1.15"/>
<line x1="157.8" y1="817.0" x2="157.8" y2="842.7" stroke-width="1.15"/>
<line x1="155.1" y1="817.0" x2="160.6" y2="817.0" stroke-width="1.15"/>
<line x1="155.1" y1="842.7" x2="160.6" y2="842.7" stroke-width="1.15"/>
<line x1="202.5" y1="771.6" x2="202.5" y2="809.8" stroke-width="1.15"/>
<line x1="199.8" y1="771.6" x2="205.2" y2="771.6" stroke-width="1.15"/>
<line x1="199.8" y1="809.8" x2="205.2" y2="809.8" stroke-width="1.15"/>
<line x1="247.2" y1="712.0" x2="247.2" y2="757.8" stroke-width="1.15"/>
<line x1="244.4" y1="712.0" x2="249.9" y2="712.0" stroke-width="1.15"/>
<line x1="244.4" y1="757.8" x2="249.9" y2="757.8" stroke-width="1.15"/>
<line x1="292.5" y1="693.5" x2="292.5" y2="727.7" stroke-width="1.15"/>
<line x1="289.8" y1="693.5" x2="295.2" y2="693.5" stroke-width="1.15"/>
<line x1="289.8" y1="727.7" x2="295.2" y2="727.7" stroke-width="1.15"/>
<line x1="336.9" y1="684.5" x2="336.9" y2="716.1" stroke-width="1.15"/>
<line x1="334.1" y1="684.5" x2="339.6" y2="684.5" stroke-width="1.15"/>
<line x1="334.1" y1="716.1" x2="339.6" y2="716.1" stroke-width="1.15"/>
<line x1="381.9" y1="684.0" x2="381.9" y2="712.4" stroke-width="1.15"/>
<line x1="379.1" y1="684.0" x2="384.6" y2="684.0" stroke-width="1.15"/>
<line x1="379.1" y1="712.4" x2="384.6" y2="712.4" stroke-width="1.15"/>
<rect x="64.2" y="872.6" width="8.0" height="8.0" fill="#fff" stroke-width="1.1"/>
<rect x="109.3" y="866.6" width="8.0" height="8.0" fill="#fff" stroke-width="1.1"/>
<rect x="153.8" y="817.1" width="8.0" height="8.0" fill="#fff" stroke-width="1.1"/>
<rect x="198.5" y="737.5" width="8.0" height="8.0" fill="#fff" stroke-width="1.1"/>
<rect x="243.2" y="703.8" width="8.0" height="8.0" fill="#fff" stroke-width="1.1"/>
<rect x="288.5" y="690.5" width="8.0" height="8.0" fill="#fff" stroke-width="1.1"/>
<rect x="332.9" y="679.2" width="8.0" height="8.0" fill="#fff" stroke-width="1.1"/>
<rect x="377.9" y="672.9" width="8.0" height="8.0" fill="#fff" stroke-width="1.1"/>
<rect x="63.7" y="860.8" width="9.0" height="9.0" fill="#000" stroke="none"/>
<rect x="108.8" y="856.0" width="9.0" height="9.0" fill="#000" stroke="none"/>
<rect x="153.3" y="825.1" width="9.0" height="9.0" fill="#000" stroke="none"/>
<rect x="198.0" y="785.7" width="9.0" height="9.0" fill="#000" stroke="none"/>
<rect x="242.7" y="730.0" width="9.0" height="9.0" fill="#000" stroke="none"/>
<rect x="288.0" y="706.1" width="9.0" height="9.0" fill="#000" stroke="none"/>
<rect x="332.4" y="695.8" width="9.0" height="9.0" fill="#000" stroke="none"/>
<rect x="377.4" y="693.8" width="9.0" height="9.0" fill="#000" stroke="none"/>
<text x="203.0" y="826.3" font-size="19" text-anchor="middle">*</text>
<rect x="252.8" y="815.1" width="131.9" height="42.2" fill="#fff" stroke-width="1.1"/>
<line x1="257.3" y1="827.2" x2="277.9" y2="827.2" stroke-width="1.1"/>
<rect x="263.8" y="823.2" width="8" height="8" fill="#fff" stroke-width="1.1"/>
<line x1="257.3" y1="847.8" x2="277.9" y2="847.8" stroke-width="1.1"/>
<rect x="263.3" y="843.3" width="9" height="9" fill="#000" stroke="none"/>
<text x="282.2" y="832.0" font-size="16.3" textLength="48.7" lengthAdjust="spacingAndGlyphs">Control</text>
<text x="282.2" y="852.8" font-size="16.3" textLength="89.9" lengthAdjust="spacingAndGlyphs">cPTIO100uM</text>
<text x="223.4" y="893.0" font-size="13.2" textLength="113.5" lengthAdjust="spacingAndGlyphs">*P&lt;0.05 vs.Control</text>
<text x="68.5" y="946.0" font-size="15.3" text-anchor="middle">Con</text>
<text x="109.8" y="946.0" font-size="15.3" text-anchor="middle">1</text>
<text x="155.1" y="946.0" font-size="15.3" text-anchor="middle">3</text>
<text x="199.1" y="946.0" font-size="15.3" text-anchor="middle">10</text>
<text x="242.5" y="946.0" font-size="15.3" text-anchor="middle">30</text>
<text x="285.8" y="946.0" font-size="15.3" text-anchor="middle">100</text>
<text x="328.6" y="946.0" font-size="15.3" text-anchor="middle">300</text>
<text x="370.4" y="946.0" font-size="15.3" text-anchor="middle" textLength="32.6" lengthAdjust="spacingAndGlyphs">1 µM</text>
<text x="188.8" y="962.5" font-size="15.7" textLength="68.0" lengthAdjust="spacingAndGlyphs">[ACh](nM)</text>
</svg></body></html>
